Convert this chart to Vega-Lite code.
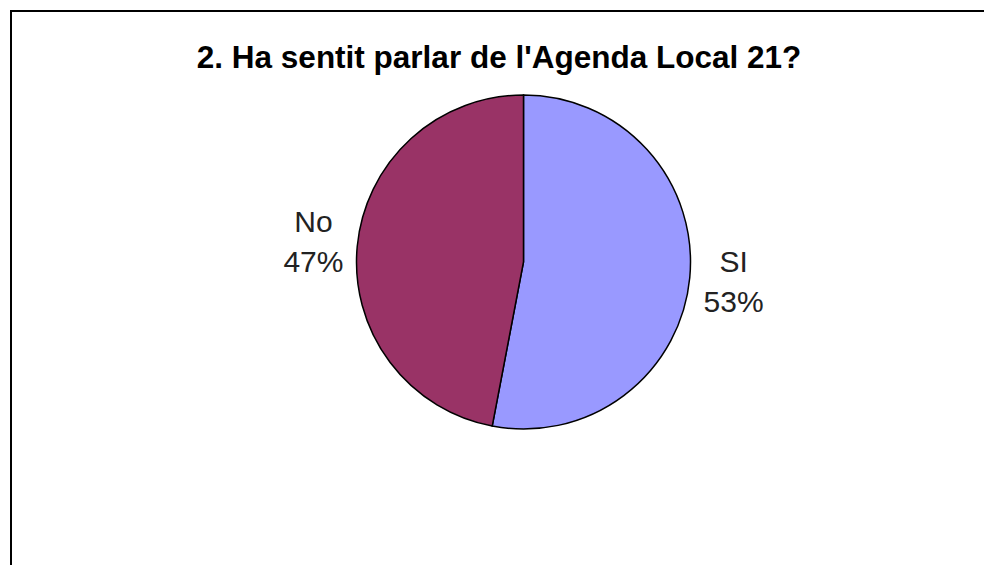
{
  "$schema": "https://vega.github.io/schema/vega-lite/v6.json",
  "autosize": "none",
  "width": 1000,
  "height": 620,
  "padding": {"left": 11, "top": 11, "right": 0, "bottom": 0},
  "background": "white",
  "view": {"stroke": "black", "strokeWidth": 2},
  "title": {
    "text": "2. Ha sentit parlar de l'Agenda Local 21?",
    "font": "Liberation Sans",
    "fontSize": 31.5,
    "fontWeight": "bold",
    "color": "black",
    "anchor": "middle",
    "frame": "group",
    "baseline": "alphabetic",
    "offset": -88,
    "dx": -12
  },
  "data": {
    "values": [
      {"categoria": "SI", "percent": 53, "ordre": 1},
      {"categoria": "No", "percent": 47, "ordre": 2}
    ]
  },
  "transform": [
    {"calculate": "datum.categoria + '\\n' + datum.percent + '%'", "as": "etiqueta"}
  ],
  "encoding": {
    "theta": {"field": "percent", "type": "quantitative", "stack": true},
    "order": {"field": "ordre", "type": "quantitative"}
  },
  "layer": [
    {
      "mark": {"type": "arc", "x": 512.5, "y": 251, "outerRadius": 167, "stroke": "black", "strokeWidth": 1.5},
      "encoding": {
        "color": {
          "field": "categoria",
          "type": "nominal",
          "scale": {"domain": ["SI", "No"], "range": ["#9999FF", "#993366"]},
          "legend": null
        }
      }
    },
    {
      "mark": {"type": "text", "x": 512.5, "y": 251, "radius": 211, "dy": -19, "font": "Liberation Sans", "fontSize": 30, "color": "#222222", "align": "center", "baseline": "middle", "lineBreak": "\n", "lineHeight": 40},
      "encoding": {
        "text": {"field": "etiqueta", "type": "nominal"}
      }
    }
  ]
}
